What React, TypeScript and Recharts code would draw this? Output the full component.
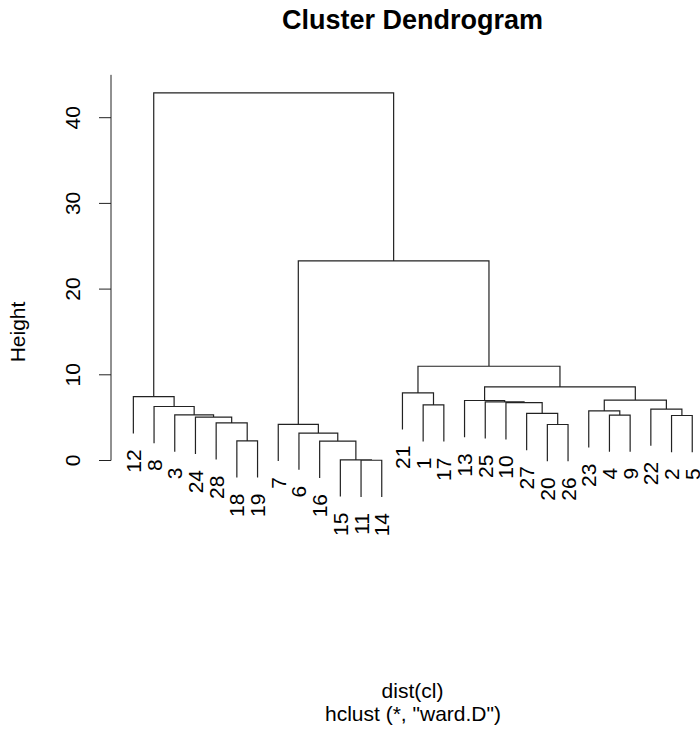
import React from "react"
import {
  ComposedChart,
  Line,
  Scatter,
  XAxis,
  YAxis,
  ReferenceLine,
} from "recharts"

// leaves left to right, as plotted
const leafOrder = [12, 8, 3, 24, 28, 18, 19, 7, 6, 16, 15, 11, 14, 21, 1, 17, 13, 25, 10, 27, 20, 26, 23, 4, 9, 22, 2, 5]

// hclust-style merge table: negative = observation, positive = earlier row (1-based)
const mergeLeft = [-11, -15, -16, -18, -6, -20, -7, -28, -24, -2, -4, -3, -27, -23, -22, -8, -1, -10, -25, -13, 14, -12, -21, 20, 23, 7, 22]
const mergeRight = [-14, 1, 2, -19, 3, -26, 5, 4, 8, -5, -9, 9, 6, 11, 10, 12, -17, 13, 18, 19, 15, 16, 17, 21, 24, 25, 26]
const mergeHeight = [0.03, 0.08, 2.25, 2.3, 3.2, 4.2, 4.22, 4.4, 5.05, 5.25, 5.3, 5.32, 5.5, 5.8, 6.0, 6.3, 6.5, 6.75, 6.85, 7.0, 7.05, 7.45, 7.9, 8.6, 11.0, 23.3, 42.9]

const yTicks = [0, 10, 20, 30, 40]

const FONT = "'Liberation Sans', Arial, sans-serif"
const INK = "#222"

const hang = 0.1 * Math.max(...mergeHeight)
const leafPos = new Map(leafOrder.map((id, i) => [id, i + 1]))
const xPad = 0.04 * (leafOrder.length - 1)

const nodeX: number[] = []
const segments: { x: number; y: number | null }[] = []
const leafBottom = new Map<number, number>()

mergeHeight.forEach((h, r) => {
  const child = (c: number) => {
    if (c < 0) {
      leafBottom.set(-c, h - hang)
      return { x: leafPos.get(-c) as number, bottom: h - hang }
    }
    return { x: nodeX[c - 1], bottom: mergeHeight[c - 1] }
  }
  const a = child(mergeLeft[r])
  const b = child(mergeRight[r])
  nodeX[r] = (a.x + b.x) / 2
  segments.push(
    { x: a.x, y: a.bottom },
    { x: a.x, y: h },
    { x: b.x, y: h },
    { x: b.x, y: b.bottom },
    { x: b.x, y: null },
  )
})

const leaves = leafOrder.map((id, i) => ({
  x: i + 1,
  y: leafBottom.get(id) as number,
  label: String(id),
}))

const LeafLabel = (props: any) => {
  const x = props.cx + 7.5
  const y = props.cy + 16
  return (
    <text
      x={x}
      y={y}
      transform={`rotate(-90 ${x} ${y})`}
      textAnchor="end"
      fontSize={21}
      fontFamily={FONT}
      fill="#000"
    >
      {props.payload.label}
    </text>
  )
}

const YTick = (props: any) => (
  <text
    x={props.x}
    y={props.y}
    transform={`rotate(-90 ${props.x} ${props.y})`}
    textAnchor="middle"
    fontSize={21}
    fontFamily={FONT}
    fill="#000"
  >
    {props.payload.value}
  </text>
)

export default function App() {
  const xMin = 1 - xPad
  const xMax = leafOrder.length + xPad

  return (
    <div
      style={{
        position: "absolute",
        left: 0,
        top: 0,
        width: 700,
        height: 733,
        overflow: "hidden",
        background: "#fff",
      }}
    >
      <ComposedChart
        width={716}
        height={733}
        margin={{ top: 74.85, right: 1.4, bottom: 229.65, left: 51 }}
        style={{ overflow: "visible" }}
      >
        <XAxis type="number" dataKey="x" domain={[xMin, xMax]} hide />
        <YAxis
          type="number"
          domain={[-5, 45]}
          ticks={yTicks}
          width={60}
          axisLine={false}
          tickLine={{ stroke: INK }}
          tickSize={12}
          tickMargin={19}
          tick={<YTick />}
        />
        <ReferenceLine
          segment={[{ x: xMin, y: 0 }, { x: xMin, y: 45 }]}
          stroke={INK}
          ifOverflow="visible"
        />
        <Line
          data={segments}
          dataKey="y"
          type="linear"
          stroke={INK}
          strokeWidth={1.2}
          dot={false}
          activeDot={false}
          connectNulls={false}
          isAnimationActive={false}
        />
        <Scatter
          data={leaves}
          dataKey="y"
          shape={<LeafLabel />}
          isAnimationActive={false}
        />
      </ComposedChart>
      <svg
        width={700}
        height={733}
        style={{ position: "absolute", left: 0, top: 0, pointerEvents: "none" }}
      >
        <text x={412.5} y={29} textAnchor="middle" fontSize={27} fontWeight="bold" fontFamily={FONT} fill="#000">
          Cluster Dendrogram
        </text>
        <text x={412.5} y={698} textAnchor="middle" fontSize={21} fontFamily={FONT} fill="#000">
          dist(cl)
        </text>
        <text x={413} y={721} textAnchor="middle" fontSize={21} fontFamily={FONT} fill="#000">
          hclust (*, "ward.D")
        </text>
        <text
          x={25}
          y={332}
          transform="rotate(-90 25 332)"
          textAnchor="middle"
          fontSize={21}
          fontFamily={FONT}
          fill="#000"
        >
          Height
        </text>
      </svg>
    </div>
  )
}
